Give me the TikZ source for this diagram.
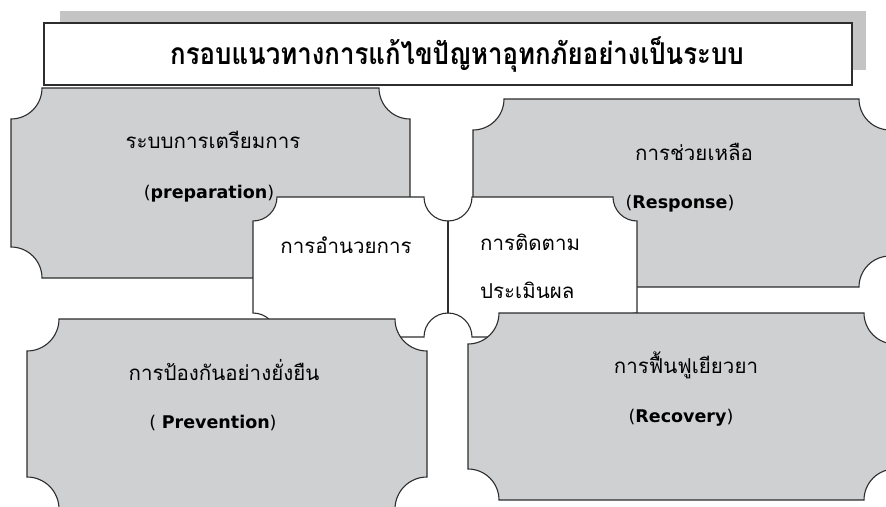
\documentclass[tikz,border=0pt]{standalone}
\usepackage{fontspec}
\newfontfamily\thai[Script=Thai]{Loma}
\newfontfamily\lat{DejaVu Sans}
\definecolor{plgray}{RGB}{207,208,210}
\definecolor{edgec}{RGB}{45,45,45}
\definecolor{shadowgray}{RGB}{196,196,196}
\tikzset{
  plaqueline/.style={draw=edgec, line width=1.1pt},
  thaitext/.style={font=\thai\fontsize{20.5}{24}\selectfont, inner sep=0pt},
  engtext/.style={font=\lat\fontsize{17.5}{20}\selectfont, inner sep=0pt},
  titletext/.style={font=\thai\bfseries\fontsize{30}{34}\selectfont, inner sep=0pt},
}
% plaque: x1 y1 x2 y2 radius fill
\newcommand\plq[6]{%
  \filldraw[plaqueline, fill=#6] (#1+#5,#2) -- (#3-#5,#2)
    arc[start angle=180, end angle=90, radius=#5] -- (#3,#4-#5)
    arc[start angle=270, end angle=180, radius=#5] -- (#1+#5,#4)
    arc[start angle=360, end angle=270, radius=#5] -- (#1,#2+#5)
    arc[start angle=90, end angle=0, radius=#5] -- cycle;}
\newcommand\eng[1]{(\textbf{#1})}
\begin{document}
\begin{tikzpicture}[x=1pt,y=-1pt]
\useasboundingbox (0,0) rectangle (886,506);
\fill[white] (0,0) rectangle (886,506);
\clip (0,0) rectangle (886,506);
% title banner with shadow
\fill[shadowgray] (60,11) rectangle (866,70);
\draw[line width=1.4pt, draw=edgec, fill=white] (44,23) rectangle (852,85);
\node[titletext] (title) at (457,55) {\scalebox{0.86}[1]{กรอบแนวทางการแก้ไขปัญหาอุทกภัยอย่างเป็นระบบ}};
% upper plaques
\plq{11}{88}{410}{278}{31}{plgray}
\plq{473}{99}{890}{287}{31}{plgray}
% centre plaques
\plq{253}{197}{448}{337}{24}{white}
\plq{448}{197}{637}{337}{24}{white}
\draw[line width=2.6pt, draw=edgec] (448,221) -- (448,313);
% lower plaques
\plq{27}{319}{427}{509}{32}{plgray}
\plq{468}{313}{895}{500}{31}{plgray}
% texts
\node[thaitext] (prepth) at (213,140) {ระบบการเตรียมการ};
\node[engtext] (prepen) at (209,194) {\eng{preparation}};
\node[thaitext] (respth) at (694,152) {การช่วยเหลือ};
\node[engtext] (respen) at (680,204) {\eng{Response}};
\node[thaitext] (cmdth) at (346,245) {การอำนวยการ};
\node[thaitext, anchor=west] (mon1) at (480,242) {การติดตาม};
\node[thaitext, anchor=west] (mon2) at (480,290) {ประเมินผล};
\node[thaitext] (prevth) at (224,370) {การป้องกันอย่างยั่งยืน};
\node[engtext] (preven) at (213,423) {( \textbf{Prevention})};
\node[thaitext] (recth) at (686,365) {การฟื้นฟูเยียวยา};
\node[engtext] (recen) at (681,418) {\eng{Recovery}};
\end{tikzpicture}
\end{document}
